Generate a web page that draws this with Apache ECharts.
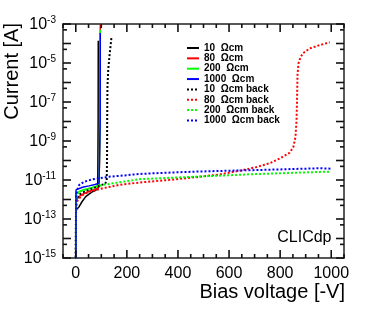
<!DOCTYPE html>
<html>
<head>
<meta charset="utf-8">
<script src="https://cdn.jsdelivr.net/npm/echarts@6/dist/echarts.min.js"></script>
<style>
html,body{margin:0;padding:0;background:#fff;}
#c{width:374px;height:316px;}
</style>
</head>
<body>
<div id="c"></div>
<script>
// ---- data (voltage in -V, current in A) ----
var seriesNames = ['10  \u03A9cm', '80  \u03A9cm', '200  \u03A9cm', '1000  \u03A9cm',
  '10  \u03A9cm back', '80  \u03A9cm back', '200  \u03A9cm back', '1000  \u03A9cm back'];

var v10 = [0, 1, 4, 13, 25, 39, 52, 65, 78, 86, 87.5, 87.5, 88];
var i10 = [1e-16, 2.5e-13, 3.2e-13, 4.3e-13, 7.9e-13, 1.4e-12, 1.9e-12, 2.5e-12, 3.0e-12, 3.4e-12, 3.6e-12, 1e-8, 1.4e-4];

var v80 = [0, 1, 13, 25, 39, 60, 78, 91, 95, 95.5, 96];
var i80 = [1e-16, 9.3e-13, 1.4e-12, 1.8e-12, 2.2e-12, 2.8e-12, 3.3e-12, 4.3e-12, 5.0e-12, 1e-8, 1.0e-3];

var v200 = [0, 1, 13, 30, 52, 75, 91, 95, 95.5, 96];
var i200 = [1e-16, 2.1e-12, 2.5e-12, 3.2e-12, 3.7e-12, 4.5e-12, 5.5e-12, 6.0e-12, 1e-8, 5.0e-4];

var v1000 = [0, 1, 13, 30, 52, 75, 91, 95, 95.5, 96];
var i1000 = [1e-16, 3.1e-12, 3.7e-12, 4.4e-12, 5.0e-12, 5.9e-12, 6.8e-12, 7.2e-12, 1e-8, 3.5e-4];

var v10b = [0, 1, 5, 13, 40, 70, 98, 115, 121, 122, 122.5, 123, 124, 127, 133, 140];
var i10b = [1e-16, 5.0e-13, 1.1e-12, 1.8e-12, 2.8e-12, 3.8e-12, 5.5e-12, 6.3e-12, 1.0e-11, 5.0e-11, 2.5e-10, 1.3e-8, 6.3e-7, 4.4e-6, 3.2e-5, 2.2e-4];

var v80b = [0, 1, 5, 13, 30, 52, 103, 170, 248, 380, 471, 560, 654, 710, 759, 798, 837, 852, 860, 864, 866, 868, 872, 880, 890, 916, 955, 994];
var i80b = [1e-16, 3.2e-13, 7.9e-13, 1.15e-12, 1.8e-12, 2.5e-12, 3.7e-12, 5.6e-12, 7.4e-12, 1.05e-11, 1.4e-11, 1.9e-11, 3.2e-11, 4.7e-11, 7.2e-11, 1.26e-10, 2.5e-10, 5.0e-10, 1.6e-9, 1.0e-8, 1.0e-7, 2.5e-6, 1.0e-5, 2.0e-5, 3.2e-5, 5.6e-5, 8.3e-5, 1.15e-4];

var v200b = [0, 1, 5, 13, 40, 70, 100, 170, 248, 471, 700, 955, 996];
var i200b = [1e-16, 1.0e-12, 1.8e-12, 2.5e-12, 3.3e-12, 4.2e-12, 5.4e-12, 7.6e-12, 1.1e-11, 1.48e-11, 2.0e-11, 2.6e-11, 2.7e-11];

var v1000b = [0, 1, 6, 13, 32, 65, 130, 170, 248, 350, 471, 694, 800, 955, 998];
var i1000b = [1e-16, 1.6e-12, 3.1e-12, 5.5e-12, 8.1e-12, 1.07e-11, 1.48e-11, 1.62e-11, 2.04e-11, 2.34e-11, 2.7e-11, 3.2e-11, 3.5e-11, 4.0e-11, 3.8e-11];

// ---- axis ticks / labels ----
var xMin = -50, xMax = 1050;
var yMin = 1e-15, yMax = 1e-3;
var xMajorTicks = [0, 200, 400, 600, 800, 1000];
var xMinorTicks = [-50, 50, 100, 150, 250, 300, 350, 450, 500, 550, 650, 700, 750, 850, 900, 950, 1050];
var yMajorTicks = [1e-15, 1e-14, 1e-13, 1e-12, 1e-11, 1e-10, 1e-9, 1e-8, 1e-7, 1e-6, 1e-5, 1e-4, 1e-3];
var yMinorTicks = [5e-15, 5e-14, 5e-13, 5e-12, 5e-11, 5e-10, 5e-9, 5e-8, 5e-7, 5e-6, 5e-5, 5e-4];
var yLabelExp = [-15, -13, -11, -9, -7, -5, -3];

var colors = ['#000000', '#ff0000', '#00ff00', '#0000ff', '#000000', '#ff0000', '#00ff00', '#0000ff'];
var allV = [v10, v80, v200, v1000, v10b, v80b, v200b, v1000b];
var allI = [i10, i80, i200, i1000, i10b, i80b, i200b, i1000b];

function zip(a, b) { return a.map(function (x, k) { return [x, b[k]]; }); }

var FONT = 'Liberation Sans, Arial, Helvetica, sans-serif';
var series = [];
for (var s = 0; s < 8; s++) {
  var dotted = s >= 4;
  series.push({
    name: seriesNames[s],
    type: 'line',
    xAxisIndex: 0, yAxisIndex: 0,
    data: zip(allV[s], allI[s]),
    showSymbol: false,
    symbol: 'none',
    clip: true,
    animation: false,
    z: 2 + s,
    lineStyle: { color: colors[s], width: dotted ? 2 : 1.5, type: dotted ? [2, 2] : 'solid' },
    itemStyle: { color: colors[s] }
  });
}

var lineOn = { show: true, onZero: false, lineStyle: { color: '#222', width: 1.5 } };
var baseGraphic = [
  { type: 'text', x: 345, y: 292, style: { text: 'Bias voltage [-V]', fontFamily: FONT, fontSize: 20, fill: '#000', textAlign: 'right', textVerticalAlign: 'middle' } },
  { type: 'text', x: 12.5, y: 23, rotation: Math.PI / 2, style: { text: 'Current [A]', fontFamily: FONT, fontSize: 20, fill: '#000', textAlign: 'right', textVerticalAlign: 'middle' } },
  { type: 'text', x: 331.5, y: 238, style: { text: 'CLICdp', fontFamily: FONT, fontSize: 16, fill: '#000', textAlign: 'right', textVerticalAlign: 'middle' } }
];

var chart = echarts.init(document.getElementById('c'), null, { renderer: 'canvas' });
chart.setOption({
  animation: false,
  backgroundColor: '#fff',
  grid: { left: 63, right: 30, top: 24, bottom: 58, show: false },
  legend: {
    orient: 'vertical', left: 186, top: 43, itemWidth: 12, itemHeight: 8, itemGap: 0.35,
    padding: 0,
    itemStyle: { opacity: 0 },
    textStyle: { fontFamily: FONT, fontSize: 10, fontWeight: 'bold', color: '#000', lineHeight: 10 },
    data: seriesNames
  },
  xAxis: [
    { type: 'value', min: xMin, max: xMax, position: 'bottom', splitLine: { show: false }, axisLine: lineOn, axisTick: { show: false },
      axisLabel: { show: true, customValues: xMajorTicks, formatter: function (v) { return String(v); }, fontFamily: FONT, fontSize: 16, color: '#000', margin: 8 } },
    { type: 'value', min: xMin, max: xMax, position: 'top', splitLine: { show: false }, axisLine: lineOn, axisTick: { show: false }, axisLabel: { show: false } }
  ],
  yAxis: [
    { type: 'log', logBase: 10, min: yMin, max: yMax, position: 'left', splitLine: { show: false }, axisLine: { show: false, onZero: false }, axisTick: { show: false }, axisLabel: { show: false } },
    { type: 'value', min: yLabelExp[0], max: yLabelExp[yLabelExp.length - 1], interval: 2, position: 'left', splitLine: { show: false }, axisLine: lineOn, axisTick: { show: false },
      axisLabel: {
        show: true, margin: 7,
        formatter: function (e) { return '{b|10}{s|' + e + '}'; },
        rich: {
          b: { fontFamily: FONT, fontSize: 16, lineHeight: 18, verticalAlign: 'bottom', color: '#000' },
          s: { fontFamily: FONT, fontSize: 10, lineHeight: 10, verticalAlign: 'top', color: '#000' }
        }
      } },
    { type: 'value', min: yLabelExp[0], max: yLabelExp[yLabelExp.length - 1], position: 'right', splitLine: { show: false }, axisLine: lineOn, axisTick: { show: false }, axisLabel: { show: false } }
  ],
  graphic: baseGraphic,
  series: series
});

// tick marks: positions obtained from the chart's own axis scales
var tickCol = '#111';
var TW = 1.6;
var ticks = [];
var finder = { xAxisIndex: 0, yAxisIndex: 0 };
function addX(values, len) {
  values.forEach(function (v) {
    var a = chart.convertToPixel(finder, [v, yMin]);
    var b = chart.convertToPixel(finder, [v, yMax]);
    ticks.push({ type: 'rect', shape: { x: a[0] - TW / 2, y: a[1] - len, width: TW, height: len }, style: { fill: tickCol }, z: 50 });
    ticks.push({ type: 'rect', shape: { x: b[0] - TW / 2, y: b[1], width: TW, height: len }, style: { fill: tickCol }, z: 50 });
  });
}
function addY(values, len) {
  values.forEach(function (v) {
    var a = chart.convertToPixel(finder, [xMin, v]);
    var b = chart.convertToPixel(finder, [xMax, v]);
    ticks.push({ type: 'rect', shape: { x: a[0], y: a[1] - TW / 2, width: len, height: TW }, style: { fill: tickCol }, z: 50 });
    ticks.push({ type: 'rect', shape: { x: b[0] - len, y: b[1] - TW / 2, width: len, height: TW }, style: { fill: tickCol }, z: 50 });
  });
}
addX(xMajorTicks, 8);
addX(xMinorTicks, 4);
addY(yMajorTicks, 8);
addY(yMinorTicks, 4);
chart.setOption({ graphic: baseGraphic.concat(ticks) }, { replaceMerge: ['graphic'] });
</script>
</body>
</html>
